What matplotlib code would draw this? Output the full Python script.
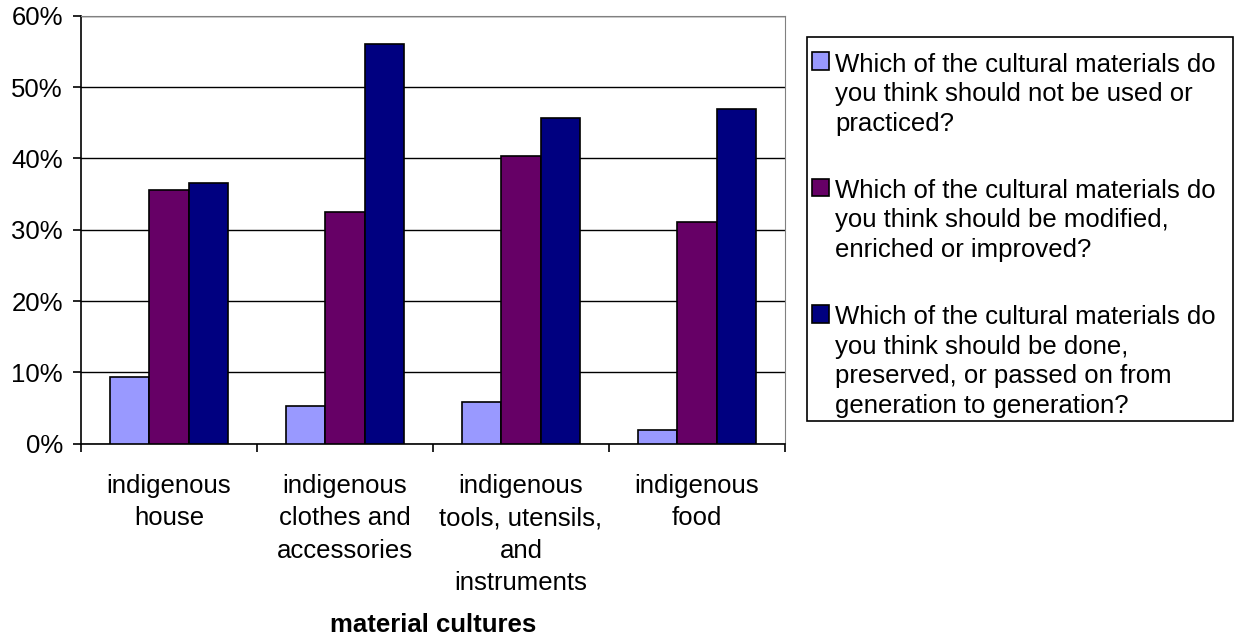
import numpy as np
import matplotlib.pyplot as plt
from matplotlib.patches import Rectangle
from matplotlib.ticker import PercentFormatter

categories = [
    "indigenous\nhouse",
    "indigenous\nclothes and\naccessories",
    "indigenous\ntools, utensils,\nand\ninstruments",
    "indigenous\nfood",
]
series_names = [
    "Which of the cultural materials do\nyou think should not be used or\npracticed?",
    "Which of the cultural materials do\nyou think should be modified,\nenriched or improved?",
    "Which of the cultural materials do\nyou think should be done,\npreserved, or passed on from\ngeneration to generation?",
]
not_used = [9.3, 5.3, 5.9, 1.9]
modified = [35.6, 32.5, 40.4, 31.1]
preserved = [36.5, 56.1, 45.7, 46.9]
colors = ["#9999ff", "#660066", "#000080"]

plt.rcParams["font.family"] = ["Liberation Sans", "DejaVu Sans"]
fs = 18.5
W, H = 1237, 639

fig = plt.figure(figsize=(W / 100, H / 100), dpi=100)
ax = fig.add_axes([0.0655, 0.3056, 0.5691, 0.6698])

x = np.arange(len(categories))
bar_w = 1 / 4.5
for i, (vals, name) in enumerate(zip([not_used, modified, preserved], series_names)):
    ax.bar(x + (i - 1) * bar_w, vals, bar_w, color=colors[i], edgecolor="black",
           linewidth=1.2, label=name, zorder=3)

ax.set_xlim(-0.5, len(categories) - 0.5)
ax.set_ylim(0, 60)
ax.set_yticks(np.arange(0, 61, 10))
ax.yaxis.set_major_formatter(PercentFormatter(decimals=0))
ax.yaxis.grid(True, color="black", linewidth=1)
ax.set_axisbelow(True)

ax.set_xticks(np.arange(-0.5, len(categories), 1))
ax.set_xticklabels([])
ax.set_xticks(x, minor=True)
ax.set_xticklabels(categories, minor=True, fontsize=fs, linespacing=1.43)
ax.tick_params(axis="x", which="minor", length=0, pad=22)
ax.tick_params(axis="x", which="major", length=6, width=1.2, direction="out")
ax.tick_params(axis="y", length=6, width=1.2, labelsize=fs, pad=7)

ax.spines["left"].set_linewidth(1.2)
ax.spines["bottom"].set_linewidth(1.2)
ax.spines["top"].set_color("#808080")
ax.spines["right"].set_color("#808080")

ax.set_xlabel("material cultures", fontsize=fs, fontweight="bold", labelpad=13)

# legend entries without their own frame, the box is drawn separately
leg = fig.legend(loc="upper left", bbox_to_anchor=(812 / W, 1 - 52.5 / H),
                 fontsize=fs, frameon=False,
                 handlelength=0.65, handleheight=0.65, handletextpad=0.25,
                 labelspacing=1.69, borderpad=0, borderaxespad=0)
for t in leg.get_texts():
    t.set_linespacing(1.29)
# put each colour square next to the first line of its entry
for column in leg._legend_handle_box.get_children():
    for row in column.get_children():
        row.align = "top"

box_l, box_r, box_t, box_b = 806.7, 1232.7, 37.3, 421
fig.patches.append(Rectangle((box_l / W, 1 - box_b / H), (box_r - box_l) / W,
                             (box_b - box_t) / H, transform=fig.transFigure,
                             fill=False, edgecolor="black", linewidth=1.2))

fig.savefig("out.png", dpi=100)
